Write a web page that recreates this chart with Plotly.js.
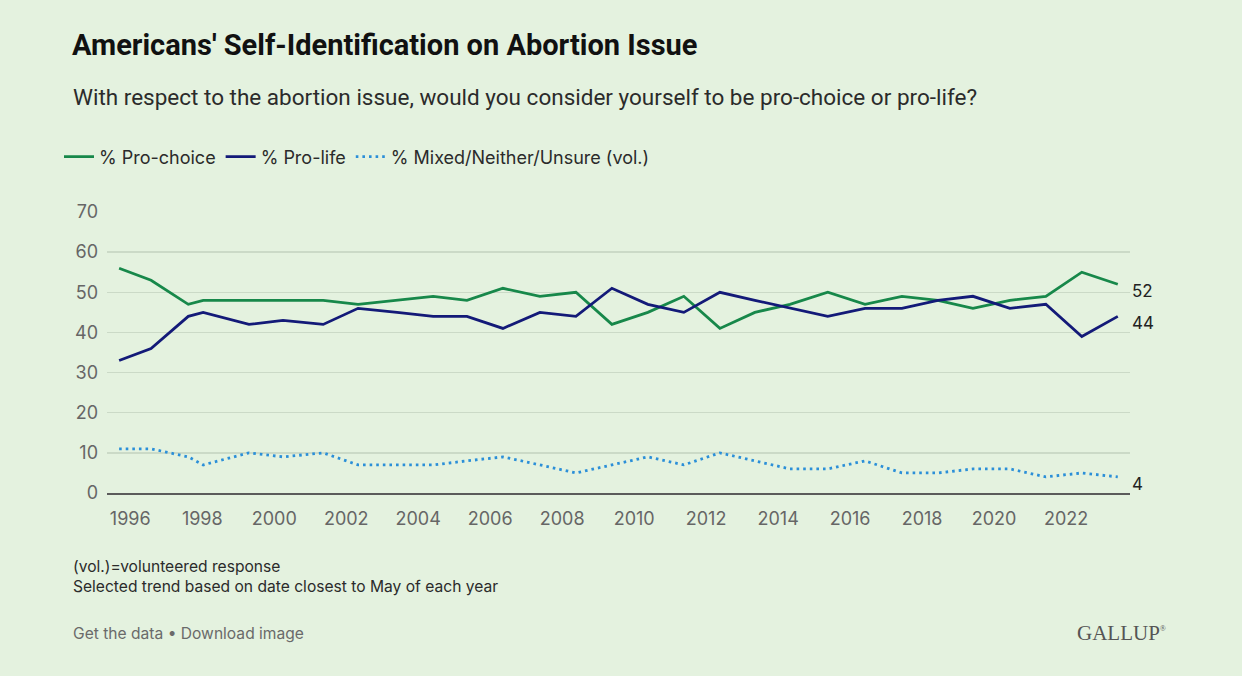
<!DOCTYPE html>
<html>
<head>
<meta charset="utf-8">
<script src="https://cdn.plot.ly/plotly-3.0.1.min.js"></script>
<style>
  html, body { margin: 0; padding: 0; background: #e4f2df; }
  #chart { width: 1242px; height: 676px; }
</style>
</head>
<body>
<div id="chart"></div>
<script>
// Survey dates (closest to May of each year)
const surveyDates = ["1995-09-10","1996-07-30","1997-08-12","1998-01-10","1999-04-20","2000-03-30",
  "2001-05-12","2002-05-01","2003-06-01","2004-06-01","2005-05-10","2006-05-10","2007-05-20",
  "2008-05-20","2009-05-20","2010-05-20","2011-05-20","2012-05-20","2013-05-10","2014-05-01",
  "2015-05-20","2016-06-01","2017-06-10","2018-06-10","2019-06-01","2020-06-10","2021-06-10",
  "2022-06-10","2023-06-10"];
const proChoice = [56,53,47,48,48,48,48,47,48,49,48,51,49,50,42,45,49,41,45,47,50,47,49,48,46,48,49,55,52];
const proLife   = [33,36,44,45,42,43,42,46,45,44,44,41,45,44,51,47,45,50,48,46,44,46,46,48,49,46,47,39,44];
const mixed     = [11,11,9,7,10,9,10,7,7,7,8,9,7,5,7,9,7,10,8,6,6,8,5,5,6,6,4,5,4];
const seriesNames = ["% Pro-choice", "% Pro-life", "% Mixed/Neither/Unsure (vol.)"];
const yTicks = [0,10,20,30,40,50,60,70];

const GREEN = "#17884a", NAVY = "#131a78", LBLUE = "#2b8fd8";
const SANS = "Inter, 'Noto Sans', sans-serif";

const traces = [
  {x: surveyDates, y: proChoice, name: seriesNames[0], mode: "lines",
   line: {color: GREEN, width: 2.8}, cliponaxis: false},
  {x: surveyDates, y: proLife, name: seriesNames[1], mode: "lines",
   line: {color: NAVY, width: 2.8}, cliponaxis: false},
  {x: surveyDates, y: mixed, name: seriesNames[2], mode: "lines",
   line: {color: LBLUE, width: 2.8, dash: "2.6px,4px"}, cliponaxis: false}
];

const last = surveyDates.length - 1;
const endVals = [proChoice[last], proLife[last], mixed[last]];
const endAnn = endVals.map(v => ({
  xref: "paper", yref: "y", x: 1, y: v, xanchor: "left", yanchor: "middle",
  xshift: 0, yshift: -7, showarrow: false, text: String(v),
  font: {family: SANS, size: 17, color: "#222"}
}));

const py = px => (492.7 - px) / 280.4;
const pxX = px => (px - 107) / 1023;

const textAnn = [
  {text: "With respect to the abortion issue, would you consider yourself to be pro-choice or pro-life?",
   x: pxX(71), y: py(98), font: {family: "Roboto, sans-serif", size: 22.5, color: "#2b2b2b"}},
  {text: "(vol.)=volunteered response",
   x: pxX(71), y: py(566), font: {family: SANS, size: 15.6, color: "#2b2b2b"}},
  {text: "Selected trend based on date closest to May of each year",
   x: pxX(71), y: py(586), font: {family: SANS, size: 15.6, color: "#2b2b2b"}},
  {text: "Get the data • Download image",
   x: pxX(71), y: py(633), font: {family: SANS, size: 15.6, color: "#6a6a6a"}}
].map(a => Object.assign({xref: "paper", yref: "paper", xanchor: "left", yanchor: "middle", showarrow: false}, a));

textAnn.push({xref: "paper", yref: "paper", x: pxX(1168), y: py(632), xanchor: "right", yanchor: "middle",
  showarrow: false, text: "GALLUP<sup><span style='font-size:8px'>®</span></sup>",
  font: {family: "'Liberation Serif', 'DejaVu Serif', serif", size: 21, color: "#555"}});

const layout = {
  width: 1242, height: 676,
  paper_bgcolor: "#e4f2df", plot_bgcolor: "#e4f2df",
  margin: {l: 107, r: 112, t: 212, b: 183, pad: 0},
  title: {text: "<b>Americans' Self-Identification on Abortion Issue</b>",
    xref: "container", yref: "container", x: 72/1242, y: 1 - 45/676,
    xanchor: "left", yanchor: "middle",
    font: {family: "Roboto, sans-serif", size: 29, color: "#111"}},
  showlegend: true,
  legend: {orientation: "h", xref: "container", yref: "container",
    x: 59/1242, y: 1 - 157/676, xanchor: "left", yanchor: "middle",
    bgcolor: "rgba(0,0,0,0)", font: {family: SANS, size: 18, color: "#2b2b2b"},
    itemwidth: 30, tracegroupgap: 0},
  xaxis: {type: "date", range: ["1995-05-10", "2023-10-12"],
    tick0: "1996-01-01", dtick: "M24", tickformat: "%Y",
    showgrid: false, zeroline: false, showline: true, linecolor: "#5b5b5b", linewidth: 2,
    ticks: "", ticklabelstandoff: 8,
    tickfont: {family: SANS, size: 18, color: "#666"}},
  yaxis: {range: [0, 70], tickvals: yTicks, showgrid: true, gridcolor: "#cbdac7", gridwidth: 1.5,
    zeroline: false, showline: false, ticks: "", ticklabelstandoff: 8,
    tickfont: {family: SANS, size: 18, color: "#666"}},
  annotations: endAnn.concat(textAnn),
  hovermode: false
};

Plotly.newPlot("chart", traces, layout, {displayModeBar: false, staticPlot: true});
</script>
</body>
</html>
